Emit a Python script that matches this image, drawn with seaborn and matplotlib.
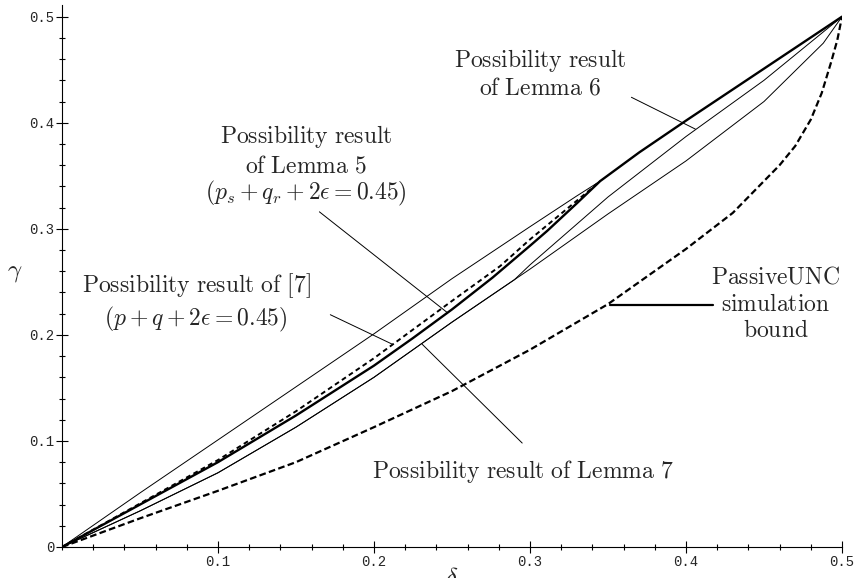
import numpy as np
import pandas as pd
import matplotlib
matplotlib.use("Agg")
import matplotlib.pyplot as plt
import seaborn as sns

# --- data (delta on x, gamma on y) ---
passive_d = [0, 0.05, 0.10, 0.15, 0.20, 0.25, 0.30, 0.35, 0.40, 0.43, 0.45, 0.46, 0.47, 0.48, 0.487, 0.493, 0.497, 0.5]
passive_g = [0, 0.027, 0.053, 0.080, 0.113, 0.147, 0.186, 0.229, 0.281, 0.315, 0.345, 0.360, 0.378, 0.403, 0.428, 0.457, 0.478, 0.5]

lemma5_d = [0, 0.05, 0.10, 0.15, 0.20, 0.225, 0.25, 0.276, 0.30, 0.311, 0.33, 0.345, 0.37, 0.40, 0.45, 0.5]
lemma5_g = [0, 0.040, 0.080, 0.124, 0.171, 0.197, 0.224, 0.254, 0.284, 0.298, 0.324, 0.345, 0.372, 0.402, 0.451, 0.5]

ref7_d = [0, 0.05, 0.10, 0.15, 0.20, 0.25, 0.281, 0.30, 0.337, 0.345]
ref7_g = [0, 0.041, 0.082, 0.128, 0.178, 0.232, 0.265, 0.290, 0.335, 0.345]

upper_d = [0, 0.05, 0.10, 0.15, 0.20, 0.25, 0.30, 0.33, 0.345]
upper_g = [0, 0.051, 0.101, 0.151, 0.201, 0.253, 0.302, 0.331, 0.345]

lemma6_d = [0, 0.05, 0.10, 0.15, 0.20, 0.25, 0.29, 0.30, 0.35, 0.40, 0.45, 0.5]
lemma6_g = [0, 0.034, 0.070, 0.113, 0.160, 0.212, 0.252, 0.266, 0.330, 0.387, 0.440, 0.5]

lemma7_d = [0, 0.05, 0.10, 0.15, 0.20, 0.25, 0.30, 0.35, 0.40, 0.45, 0.488, 0.5]
lemma7_g = [0, 0.034, 0.070, 0.113, 0.160, 0.212, 0.262, 0.314, 0.364, 0.420, 0.475, 0.5]

x_ticks = [0.1, 0.2, 0.3, 0.4, 0.5]
y_ticks = [0, 0.1, 0.2, 0.3, 0.4, 0.5]
x_tick_labels = ["0.1", "0.2", "0.3", "0.4", "0.5"]
y_tick_labels = ["0", "0.1", "0.2", "0.3", "0.4", "0.5"]

sns.set_style("white")
plt.rcParams['mathtext.fontset'] = 'cm'

fig = plt.figure(figsize=(8.57, 5.78), dpi=100)
ax = fig.add_axes([62 / 857, 31 / 578, 780 / 857, 542 / 578])

# curves
sns.lineplot(x=upper_d, y=upper_g, ax=ax, color='black', lw=0.7)
sns.lineplot(x=lemma6_d, y=lemma6_g, ax=ax, color='black', lw=0.7)
sns.lineplot(x=lemma7_d, y=lemma7_g, ax=ax, color='black', lw=0.7)
sns.lineplot(x=ref7_d, y=ref7_g, ax=ax, color='black', lw=1.4, linestyle=(0, (2.5, 1.8)))
sns.lineplot(x=lemma5_d, y=lemma5_g, ax=ax, color='black', lw=1.7)
sns.lineplot(x=passive_d, y=passive_g, ax=ax, color='black', lw=1.6, linestyle=(0, (3, 1.5)))

# annotation pointers
ax.plot([0.365, 0.406], [0.424, 0.394], color='black', lw=0.7)
ax.plot([0.165, 0.247], [0.316, 0.221], color='black', lw=0.7)
ax.plot([0.172, 0.212], [0.219, 0.191], color='black', lw=0.7)
ax.plot([0.295, 0.231], [0.098, 0.191], color='black', lw=0.7)
ax.plot([0.351, 0.417], [0.228, 0.228], color='black', lw=1.6)

tk = dict(ha='center', va='center', fontsize=17)
# Lemma 6
ax.text(0.3064, 0.459, "$\\mathrm{Possibility\\ result}$", **tk)
ax.text(0.3064, 0.433, "$\\mathrm{of\\ Lemma\\ 6}$", **tk)
# Lemma 5
ax.text(0.1564, 0.387, "$\\mathrm{Possibility\\ result}$", **tk)
ax.text(0.1564, 0.360, "$\\mathrm{of\\ Lemma\\ 5}$", **tk)
ax.text(0.1564, 0.333, "$(p_s+q_r+2\\epsilon=0.45)$", **tk)
# reference [7]
ax.text(0.0859, 0.246, "$\\mathrm{Possibility\\ result\\ of\\ [7]}$", **tk)
ax.text(0.0859, 0.215, "$(p+q+2\\epsilon=0.45)$", **tk)
# Lemma 7
ax.text(0.2955, 0.071, "$\\mathrm{Possibility\\ result\\ of\\ Lemma\\ 7}$", **tk)
# PassiveUNC
ax.text(0.4577, 0.255, "$\\mathrm{PassiveUNC}$", **tk)
ax.text(0.4577, 0.229, "$\\mathrm{simulation}$", **tk)
ax.text(0.4577, 0.205, "$\\mathrm{bound}$", **tk)

ax.set_xlim(0, 0.5)
ax.set_ylim(0, 0.511)
ax.set_xticks(x_ticks)
ax.set_xticklabels(x_tick_labels, family='Liberation Mono', fontsize=10)
ax.set_yticks(y_ticks)
ax.set_yticklabels(y_tick_labels, family='Liberation Mono', fontsize=10)
ax.set_xticks(np.arange(0, 0.5001, 0.02), minor=True)
ax.set_yticks(np.arange(0, 0.5001, 0.02), minor=True)
ax.tick_params(which='major', direction='inout', length=9, width=0.8, color='black', pad=1)
ax.tick_params(which='minor', direction='inout', length=5, width=0.8, color='black')
ax.tick_params(axis='x', which='both', bottom=True)
ax.tick_params(axis='y', which='both', left=True)

for side in ['top', 'right']:
    ax.spines[side].set_visible(False)
for side in ['left', 'bottom']:
    ax.spines[side].set_color('black')
    ax.spines[side].set_linewidth(0.8)

ax.set_xlabel("$\\delta$", fontsize=18)
ax.xaxis.set_label_coords(0.499, -0.035)
ax.set_ylabel("$\\gamma$", fontsize=18, rotation=0)
ax.yaxis.set_label_coords(-0.061, 0.485)

fig.savefig("out.png", dpi=100)
